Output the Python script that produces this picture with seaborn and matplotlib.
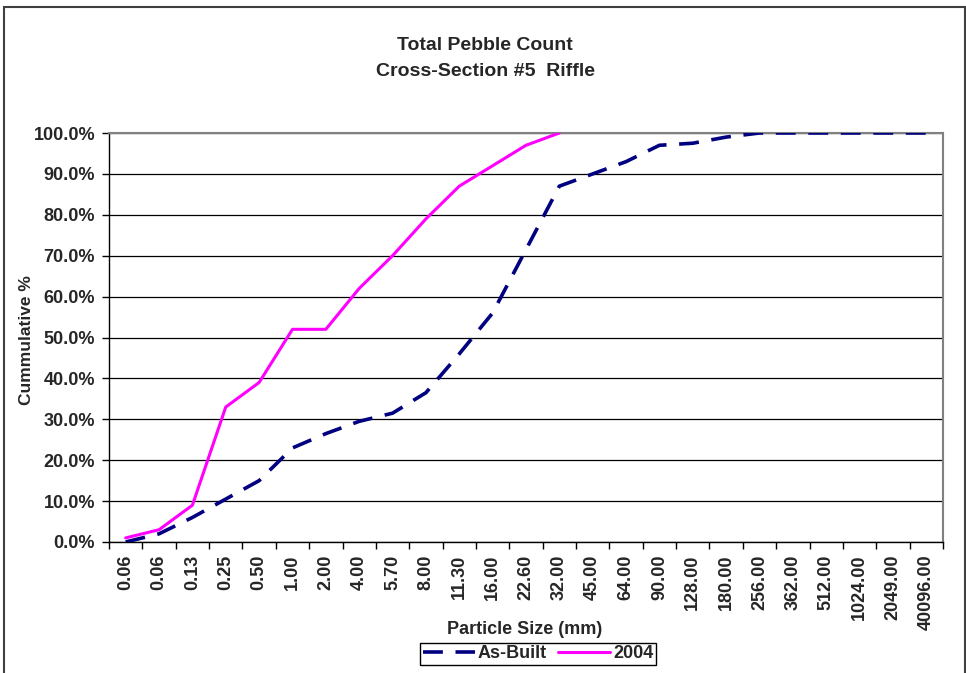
import matplotlib
matplotlib.use("Agg")
import matplotlib.pyplot as plt
import seaborn as sns
import numpy as np
import pandas as pd
from matplotlib.patches import Rectangle
from matplotlib.ticker import FixedLocator, FuncFormatter

sizes = ["0.06", "0.06", "0.13", "0.25", "0.50", "1.00", "2.00", "4.00", "5.70",
         "8.00", "11.30", "16.00", "22.60", "32.00", "45.00", "64.00", "90.00",
         "128.00", "180.00", "256.00", "362.00", "512.00", "1024.00", "2049.00",
         "40096.00"]
as_built = [0, 2, 6, 10.5, 15, 23, 26.5, 29.5, 31.5, 36.5, 46, 56, 71.5, 87, 90,
            93, 97, 97.5, 99, 100, 100, 100, 100, 100, 100]
y2004 = [1, 3, 9, 33, 39, 52, 52, 62, 70, 79, 87, 92, 97, 100]

sns.set_theme(style="white")
plt.rcParams['font.family'] = ['Liberation Sans', 'DejaVu Sans']

W, H = 966, 673
fig = plt.figure(figsize=(W / 100, H / 100), dpi=100)
ax = fig.add_axes([109 / W, 1 - 542 / H, (943 - 109) / W, (542 - 133) / H])

pos_ab = np.arange(len(as_built))
pos_04 = np.arange(len(y2004))
df_ab = pd.DataFrame({"pos": pos_ab, "val": as_built})
df_04 = pd.DataFrame({"pos": pos_04, "val": y2004})

sns.lineplot(data=df_ab, x="pos", y="val", ax=ax, color="#000080", lw=2.6,
             label="As-Built", zorder=3)
ax.lines[-1].set_dashes([5.5, 3.5])
sns.lineplot(data=df_04, x="pos", y="val", ax=ax, color="#FF00FF", lw=2.2,
             label="2004", zorder=4)

n = len(sizes)
ax.set_xlim(-0.5, n - 0.5)
ax.set_ylim(0, 100)
ax.set_yticks(np.arange(0, 101, 10))
ax.yaxis.set_major_formatter(FuncFormatter(lambda v, p: f"{v:.1f}%"))
ax.grid(axis="y", color="black", lw=0.9)
ax.grid(axis="x", visible=False)

# categories: labels centered, ticks at boundaries
ax.set_xticks(np.arange(n))
ax.set_xticklabels(sizes, rotation=90, fontweight="bold", fontsize=13)
ax.tick_params(axis="x", which="major", length=0, pad=9)
ax.xaxis.set_minor_locator(FixedLocator(np.arange(-0.5, n, 1.0)))
ax.tick_params(axis="x", which="minor", length=5, width=1, color="black", direction="out", bottom=True)
ax.tick_params(axis="y", length=5, width=1, color="black", direction="out", left=True,
               labelsize=13, pad=5)
for t in ax.get_yticklabels():
    t.set_fontweight("bold")

for s in ["left", "bottom"]:
    ax.spines[s].set_color("black")
    ax.spines[s].set_linewidth(1)
for s in ["top", "right"]:
    ax.spines[s].set_color("#808080")
    ax.spines[s].set_linewidth(1.5)
    ax.spines[s].set_visible(True)

ax.set_xlabel("")
ax.set_ylabel("")
fig.text(27 / W, 1 - 340 / H, "Cummulative %", rotation=90, ha="center", va="center",
         fontweight="bold", fontsize=12.5)

fig.text(525 / W, 1 - 630 / H, "Particle Size (mm)", ha="center", va="center",
         fontweight="bold", fontsize=13)
fig.text(485 / W, 1 - 46 / H, "Total Pebble Count", ha="center", va="center",
         fontweight="bold", fontsize=14)
fig.text(485 / W, 1 - 71 / H, "Cross-Section #5  Riffle", ha="center", va="center",
         fontweight="bold", fontsize=14)

leg = ax.legend(loc="center", bbox_to_anchor=(538 / W, 1 - 654 / H),
                bbox_transform=fig.transFigure, ncol=2, frameon=True,
                fancybox=False, edgecolor="black", framealpha=1,
                prop={"weight": "bold", "size": 13}, handlelength=2.9,
                handletextpad=0.15, columnspacing=0.6, borderpad=0.15,
                borderaxespad=0)
leg.get_frame().set_linewidth(1)

fig.patches.append(Rectangle((4 / W, -0.05), (965 - 4) / W, 1.05 - 7 / H,
                             transform=fig.transFigure, fill=False,
                             edgecolor="#404040", lw=1.5))

fig.savefig("out.png", dpi=100, facecolor="white")
